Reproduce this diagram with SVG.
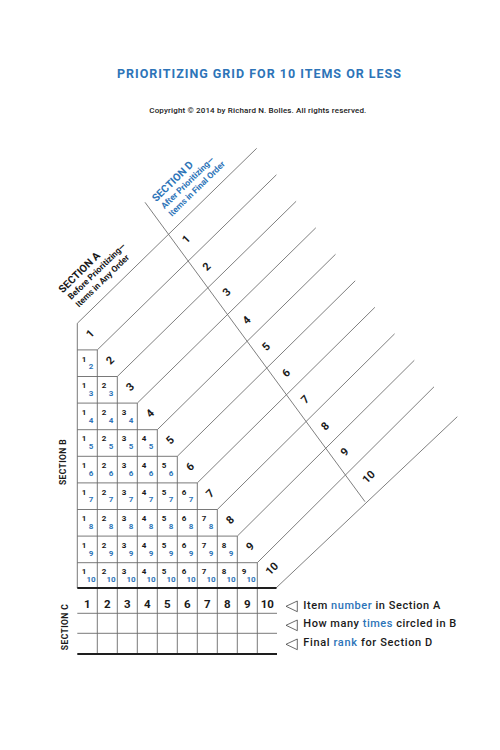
<svg xmlns="http://www.w3.org/2000/svg" width="500" height="750" viewBox="0 0 500 750">
<style>
.t{font-family:Roboto,'Liberation Sans',Arial,sans-serif}
.ln{stroke:#6a6a6a;stroke-width:0.9;fill:none}
.dg{stroke:#707070;stroke-width:0.9;fill:none}
.th{stroke:#1e1e1e;stroke-width:2.2;fill:none}
.k{fill:#1a1a1a}
.b{fill:#2d74b8}
.s{font-size:8px;font-weight:700;text-anchor:middle}
.bn{font-size:11px;font-weight:700;text-anchor:middle;fill:#1a1a1a}
.hd{font-size:11.5px;font-weight:700;text-anchor:middle;fill:#1a1a1a}
.lg{font-size:11px;font-weight:500;fill:#1a1a1a}
.sec{font-size:8.5px;font-weight:700;text-anchor:middle;fill:#1a1a1a;letter-spacing:0.4px}
.tri{fill:none;stroke:#444;stroke-width:0.8}
.h1{font-size:10.5px;font-weight:700}
.h2{font-size:8.5px;font-weight:700}
</style>
<rect width="500" height="750" fill="#fff"/>

<g id="title">
<text class="t" x="117" y="78.3" font-size="12.5" font-weight="700" fill="#2d74b8" textLength="284">PRIORITIZING GRID FOR 10 ITEMS OR LESS</text>
<text class="t" x="149.3" y="112.8" font-size="8" font-weight="500" fill="#1a1a1a" textLength="217">Copyright © 2014 by Richard N. Bolles. All rights reserved.</text>
</g>

<g id="connectors">
<line class="dg" x1="77.3" y1="323.3" x2="256.7" y2="148.3"/>
<line class="dg" x1="97.3" y1="349.9" x2="276.4" y2="174.8"/>
<line class="dg" x1="117.3" y1="376.5" x2="296.1" y2="201.3"/>
<line class="dg" x1="137.3" y1="403.1" x2="315.8" y2="227.8"/>
<line class="dg" x1="157.3" y1="429.7" x2="335.5" y2="254.3"/>
<line class="dg" x1="177.3" y1="456.3" x2="355.2" y2="280.8"/>
<line class="dg" x1="197.3" y1="482.9" x2="374.9" y2="307.3"/>
<line class="dg" x1="217.3" y1="509.5" x2="394.6" y2="333.8"/>
<line class="dg" x1="237.3" y1="536.1" x2="414.3" y2="360.3"/>
<line class="dg" x1="257.3" y1="562.7" x2="434" y2="386.8"/>
<line class="dg" x1="276" y1="588" x2="457.3" y2="416.7"/>
<line class="dg" x1="145" y1="202.3" x2="365" y2="501.7"/>
</g>

<g id="section-b-grid">
<line class="ln" x1="77.3" y1="323.3" x2="77.3" y2="588"/>
<line class="ln" x1="77.3" y1="349.9" x2="97.3" y2="349.9"/>
<line class="ln" x1="77.3" y1="376.5" x2="117.3" y2="376.5"/>
<line class="ln" x1="77.3" y1="403.1" x2="137.3" y2="403.1"/>
<line class="ln" x1="77.3" y1="429.7" x2="157.3" y2="429.7"/>
<line class="ln" x1="77.3" y1="456.3" x2="177.3" y2="456.3"/>
<line class="ln" x1="77.3" y1="482.9" x2="197.3" y2="482.9"/>
<line class="ln" x1="77.3" y1="509.5" x2="217.3" y2="509.5"/>
<line class="ln" x1="77.3" y1="536.1" x2="237.3" y2="536.1"/>
<line class="ln" x1="77.3" y1="562.7" x2="257.3" y2="562.7"/>
<line class="ln" x1="97.3" y1="349.9" x2="97.3" y2="588"/>
<line class="ln" x1="117.3" y1="376.5" x2="117.3" y2="588"/>
<line class="ln" x1="137.3" y1="403.1" x2="137.3" y2="588"/>
<line class="ln" x1="157.3" y1="429.7" x2="157.3" y2="588"/>
<line class="ln" x1="177.3" y1="456.3" x2="177.3" y2="588"/>
<line class="ln" x1="197.3" y1="482.9" x2="197.3" y2="588"/>
<line class="ln" x1="217.3" y1="509.5" x2="217.3" y2="588"/>
<line class="ln" x1="237.3" y1="536.1" x2="237.3" y2="588"/>
<line class="ln" x1="257.3" y1="562.7" x2="257.3" y2="588"/>
<line class="th" x1="77.3" y1="588" x2="276.5" y2="588"/>
</g>

<g id="section-a-label" class="t" transform="translate(77.3,323.3) rotate(-44.3)">
<text class="k h1" x="10.5" y="-31.5">SECTION A</text>
<text class="k h2" x="12" y="-20.8">Before Prioritizing—</text>
<text class="k h2" x="12" y="-10">Items in Any Order</text>
</g>

<g id="section-d-label" class="t" transform="translate(77.3,323.3) rotate(-44.3)">
<text class="b h1" x="141" y="-31.5">SECTION D</text>
<text class="b h2" x="142" y="-20.8">After Prioritizing—</text>
<text class="b h2" x="142" y="-10">Items in Final Order</text>
</g>

<g id="section-a-numbers" class="t">
<text class="bn" transform="translate(90,333.5) rotate(-45)" y="4">1</text>
<text class="bn" transform="translate(110,360.1) rotate(-45)" y="4">2</text>
<text class="bn" transform="translate(130,386.7) rotate(-45)" y="4">3</text>
<text class="bn" transform="translate(150,413.3) rotate(-45)" y="4">4</text>
<text class="bn" transform="translate(170,439.9) rotate(-45)" y="4">5</text>
<text class="bn" transform="translate(190,466.5) rotate(-45)" y="4">6</text>
<text class="bn" transform="translate(210,493.1) rotate(-45)" y="4">7</text>
<text class="bn" transform="translate(230,519.7) rotate(-45)" y="4">8</text>
<text class="bn" transform="translate(250,546.3) rotate(-45)" y="4">9</text>
<text class="bn" transform="translate(271.7,568.5) rotate(-45)" y="4">10</text>
</g>

<g id="section-d-numbers" class="t">
<text class="bn" transform="translate(186,239) rotate(-45)" y="4">1</text>
<text class="bn" transform="translate(206.5,266.5) rotate(-45)" y="4">2</text>
<text class="bn" transform="translate(226.5,292) rotate(-45)" y="4">3</text>
<text class="bn" transform="translate(246.5,320) rotate(-45)" y="4">4</text>
<text class="bn" transform="translate(266,346.5) rotate(-45)" y="4">5</text>
<text class="bn" transform="translate(286,372.7) rotate(-45)" y="4">6</text>
<text class="bn" transform="translate(305,399.3) rotate(-45)" y="4">7</text>
<text class="bn" transform="translate(325,426) rotate(-45)" y="4">8</text>
<text class="bn" transform="translate(344.3,451.7) rotate(-45)" y="4">9</text>
<text class="bn" transform="translate(368.3,476.7) rotate(-45)" y="4">10</text>
</g>

<g id="section-b-cells" class="t">
<g transform="translate(0,349.9)">
<text class="s k" x="84" y="11.7">1</text><text class="s b" x="91" y="19.6">2</text>
</g>
<g transform="translate(0,376.5)">
<text class="s k" x="84" y="11.7">1</text><text class="s b" x="91" y="19.6">3</text>
<text class="s k" x="104" y="11.7">2</text><text class="s b" x="111" y="19.6">3</text>
</g>
<g transform="translate(0,403.1)">
<text class="s k" x="84" y="11.7">1</text><text class="s b" x="91" y="19.6">4</text>
<text class="s k" x="104" y="11.7">2</text><text class="s b" x="111" y="19.6">4</text>
<text class="s k" x="124" y="11.7">3</text><text class="s b" x="131" y="19.6">4</text>
</g>
<g transform="translate(0,429.7)">
<text class="s k" x="84" y="11.7">1</text><text class="s b" x="91" y="19.6">5</text>
<text class="s k" x="104" y="11.7">2</text><text class="s b" x="111" y="19.6">5</text>
<text class="s k" x="124" y="11.7">3</text><text class="s b" x="131" y="19.6">5</text>
<text class="s k" x="144" y="11.7">4</text><text class="s b" x="151" y="19.6">5</text>
</g>
<g transform="translate(0,456.3)">
<text class="s k" x="84" y="11.7">1</text><text class="s b" x="91" y="19.6">6</text>
<text class="s k" x="104" y="11.7">2</text><text class="s b" x="111" y="19.6">6</text>
<text class="s k" x="124" y="11.7">3</text><text class="s b" x="131" y="19.6">6</text>
<text class="s k" x="144" y="11.7">4</text><text class="s b" x="151" y="19.6">6</text>
<text class="s k" x="164" y="11.7">5</text><text class="s b" x="171" y="19.6">6</text>
</g>
<g transform="translate(0,482.9)">
<text class="s k" x="84" y="11.7">1</text><text class="s b" x="91" y="19.6">7</text>
<text class="s k" x="104" y="11.7">2</text><text class="s b" x="111" y="19.6">7</text>
<text class="s k" x="124" y="11.7">3</text><text class="s b" x="131" y="19.6">7</text>
<text class="s k" x="144" y="11.7">4</text><text class="s b" x="151" y="19.6">7</text>
<text class="s k" x="164" y="11.7">5</text><text class="s b" x="171" y="19.6">7</text>
<text class="s k" x="184" y="11.7">6</text><text class="s b" x="191" y="19.6">7</text>
</g>
<g transform="translate(0,509.5)">
<text class="s k" x="84" y="11.7">1</text><text class="s b" x="91" y="19.6">8</text>
<text class="s k" x="104" y="11.7">2</text><text class="s b" x="111" y="19.6">8</text>
<text class="s k" x="124" y="11.7">3</text><text class="s b" x="131" y="19.6">8</text>
<text class="s k" x="144" y="11.7">4</text><text class="s b" x="151" y="19.6">8</text>
<text class="s k" x="164" y="11.7">5</text><text class="s b" x="171" y="19.6">8</text>
<text class="s k" x="184" y="11.7">6</text><text class="s b" x="191" y="19.6">8</text>
<text class="s k" x="204" y="11.7">7</text><text class="s b" x="211" y="19.6">8</text>
</g>
<g transform="translate(0,536.1)">
<text class="s k" x="84" y="11.7">1</text><text class="s b" x="91" y="19.6">9</text>
<text class="s k" x="104" y="11.7">2</text><text class="s b" x="111" y="19.6">9</text>
<text class="s k" x="124" y="11.7">3</text><text class="s b" x="131" y="19.6">9</text>
<text class="s k" x="144" y="11.7">4</text><text class="s b" x="151" y="19.6">9</text>
<text class="s k" x="164" y="11.7">5</text><text class="s b" x="171" y="19.6">9</text>
<text class="s k" x="184" y="11.7">6</text><text class="s b" x="191" y="19.6">9</text>
<text class="s k" x="204" y="11.7">7</text><text class="s b" x="211" y="19.6">9</text>
<text class="s k" x="224" y="11.7">8</text><text class="s b" x="231" y="19.6">9</text>
</g>
<g transform="translate(0,562.7)">
<text class="s k" x="84" y="11.7">1</text><text class="s b" x="91" y="19.3">10</text>
<text class="s k" x="104" y="11.7">2</text><text class="s b" x="111" y="19.3">10</text>
<text class="s k" x="124" y="11.7">3</text><text class="s b" x="131" y="19.3">10</text>
<text class="s k" x="144" y="11.7">4</text><text class="s b" x="151" y="19.3">10</text>
<text class="s k" x="164" y="11.7">5</text><text class="s b" x="171" y="19.3">10</text>
<text class="s k" x="184" y="11.7">6</text><text class="s b" x="191" y="19.3">10</text>
<text class="s k" x="204" y="11.7">7</text><text class="s b" x="211" y="19.3">10</text>
<text class="s k" x="224" y="11.7">8</text><text class="s b" x="231" y="19.3">10</text>
<text class="s k" x="244" y="11.7">9</text><text class="s b" x="251" y="19.3">10</text>
</g>
</g>

<g id="section-b-label" class="t">
<text class="sec" transform="translate(65.5,462) rotate(-90)">SECTION B</text>
</g>

<g id="section-c" class="t">
<line class="ln" x1="77.3" y1="613.3" x2="277" y2="613.3"/>
<line class="ln" x1="77.3" y1="633.3" x2="277" y2="633.3"/>
<line class="ln" x1="97.3" y1="589" x2="97.3" y2="653"/>
<line class="ln" x1="117.3" y1="589" x2="117.3" y2="653"/>
<line class="ln" x1="137.3" y1="589" x2="137.3" y2="653"/>
<line class="ln" x1="157.3" y1="589" x2="157.3" y2="653"/>
<line class="ln" x1="177.3" y1="589" x2="177.3" y2="653"/>
<line class="ln" x1="197.3" y1="589" x2="197.3" y2="653"/>
<line class="ln" x1="217.3" y1="589" x2="217.3" y2="653"/>
<line class="ln" x1="237.3" y1="589" x2="237.3" y2="653"/>
<line class="ln" x1="257.3" y1="589" x2="257.3" y2="653"/>
<line class="th" x1="77.3" y1="654" x2="277" y2="654"/>
<text class="hd" x="87.3" y="608.3">1</text>
<text class="hd" x="107.3" y="608.3">2</text>
<text class="hd" x="127.3" y="608.3">3</text>
<text class="hd" x="147.3" y="608.3">4</text>
<text class="hd" x="167.3" y="608.3">5</text>
<text class="hd" x="187.3" y="608.3">6</text>
<text class="hd" x="207.3" y="608.3">7</text>
<text class="hd" x="227.3" y="608.3">8</text>
<text class="hd" x="247.3" y="608.3">9</text>
<text class="hd" x="267.3" y="608.3">10</text>
<text class="sec" transform="translate(67.5,627) rotate(-90)">SECTION C</text>
</g>

<g id="legend" class="t">
<polygon class="tri" points="286,606.3 297.3,601 297.3,611.7"/>
<polygon class="tri" points="286,625.3 297.3,620 297.3,630.7"/>
<polygon class="tri" points="286,644.3 297.3,639 297.3,649.7"/>
<text class="lg" x="303.3" y="609.3" textLength="137">Item <tspan class="b">number</tspan> in Section A</text>
<text class="lg" x="303.3" y="627.3" textLength="153">How many <tspan class="b">times</tspan> circled in B</text>
<text class="lg" x="303.3" y="646" textLength="129">Final <tspan class="b">rank</tspan> for Section D</text>
</g>
</svg>
